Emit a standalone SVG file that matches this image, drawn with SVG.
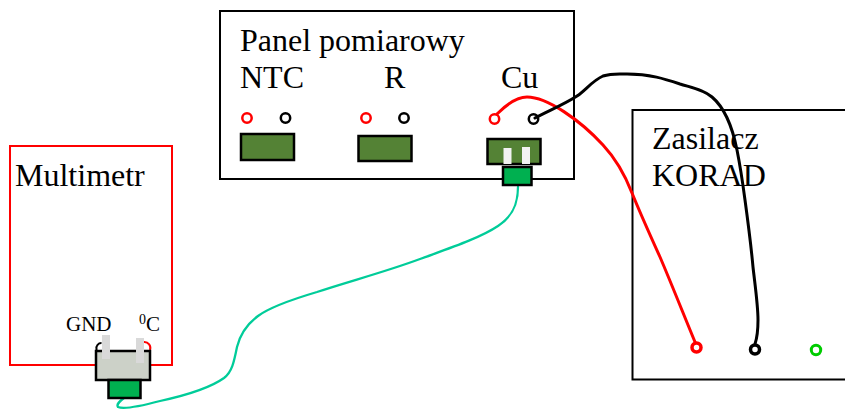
<svg xmlns="http://www.w3.org/2000/svg" width="845" height="409" viewBox="0 0 845 409">
<style>
text{font-family:"Liberation Serif","Times New Roman",serif;fill:#000}
.big{font-size:32px}
.small{font-size:21px}
.box{fill:#fff;stroke:#000;stroke-width:2}
.green{fill:#548235;stroke:#000;stroke-width:2.5}
.tip{fill:#00b050;stroke:#000;stroke-width:2.5}
.pin{fill:#f2f2f2}
.r{fill:#fff;stroke:#f00;stroke-width:2.5}
.k{fill:#fff;stroke:#000;stroke-width:2.5}
.wire{fill:none;stroke-linecap:round}
</style>
<g id="panel">
<rect class="box" x="220" y="11" width="354" height="168"/>
<text class="big" x="240" y="51">Panel pomiarowy</text>
<text class="big" x="240" y="88">NTC</text>
<text class="big" x="384" y="88">R</text>
<text class="big" x="501" y="88">Cu</text>
<circle class="r" cx="247" cy="118" r="4.700"/>
<circle class="k" cx="285.500" cy="118" r="4.700"/>
<circle class="r" cx="366" cy="118" r="4.700"/>
<circle class="k" cx="404" cy="118" r="4.700"/>
<circle class="r" cx="494.500" cy="119" r="4.700"/>
<circle class="k" cx="533.500" cy="119" r="4.700"/>
<rect class="green" x="241" y="134" width="53" height="26"/>
<rect class="green" x="358.500" y="136" width="53" height="25"/>
<rect class="green" x="487.500" y="139" width="53" height="25"/>
</g>
<g id="korad">
<path d="M845 110H632.500V379.500H845" fill="#fff" stroke="#000" stroke-width="2"/>
<text class="big" x="652" y="149">Zasilacz</text>
<text class="big" x="652" y="186">KORAD</text>
<circle cx="696.500" cy="347.500" r="4.500" fill="#fff" stroke="#f00" stroke-width="3.500"/>
<circle cx="755" cy="349.500" r="4.500" fill="#fff" stroke="#000" stroke-width="3.500"/>
<circle cx="816" cy="350" r="4.700" fill="#fff" stroke="#00cc00" stroke-width="3"/>
</g>
<g id="multimetr">
<rect x="10" y="146" width="162" height="219" fill="#fff" stroke="#f00" stroke-width="2"/>
<text class="big" x="15" y="186">Multimetr</text>
<text class="small" x="66" y="331">GND</text>
<text class="small" x="139" y="331"><tspan font-size="14" dy="-7">0</tspan><tspan dy="7">C</tspan></text>
<path d="M96.500 350V349a5 5 0 0 1 5-6" fill="none" stroke="#000" stroke-width="2"/>
<path d="M144 342a6 6 0 0 1 6 8" fill="none" stroke="#f00" stroke-width="2"/>
</g>
<g id="connectors">
<path class="wire" stroke="#f00" stroke-width="3" d="M497 114C507 104 517 97 527 97C547 97 580 120 603 145C617 160 625 175 632 193C641 215 650 235 660 257C672 285 685 318 695 342"/>
<path class="wire" stroke="#000" stroke-width="3" d="M535 118C548 111 565 104 577 96C586 90 592 81 603 76C612 73 620 74 627 74C650 74 665 79 680 84C693 88 704 90 712 97C725 108 733 130 737 150C741 170 743 185 745 200C748 222 751 245 753 267C755 285 758 305 758 320C758 330 757 338 755 344"/>
<path class="wire" stroke="#00cc99" stroke-width="2.300" d="M518 187C518 205 512 217 498 226C480 238 450 248 420 259C385 272 350 281 317 292C290 300 270 307 258 316C246 325 240 335 237 347C234 362 232 372 224 378C210 388 183 396 160 401C145 405 125 410 118 407C116 404 120 401 124 398"/>
</g>
<g id="sonda-multimetr">
<rect x="96" y="351" width="54" height="29" fill="#ccd1c8" stroke="#000" stroke-width="2.500"/>
<rect x="102" y="335" width="8" height="24" fill="#d9d9d9"/>
<rect x="136" y="338" width="8" height="25" fill="#d9d9d9"/>
<rect class="tip" x="108.500" y="380" width="32" height="18"/>
</g>
<g id="sonda-panel">
<rect class="pin" x="503.500" y="148" width="8" height="16"/>
<rect class="pin" x="522" y="147" width="8" height="17"/>
<rect class="tip" x="503" y="167" width="28.500" height="18"/>
</g>
</svg>
